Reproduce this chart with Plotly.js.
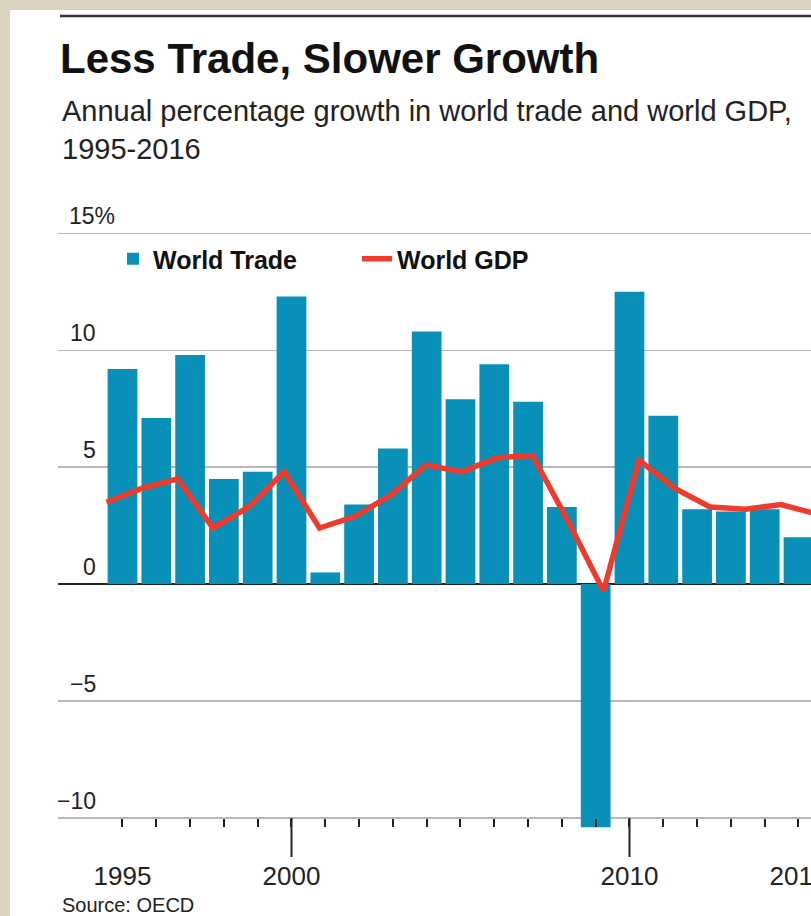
<!DOCTYPE html>
<html><head><meta charset="utf-8">
<script src="https://cdn.plot.ly/plotly-3.0.1.min.js"></script>
<style>
html,body{margin:0;padding:0;background:#dcd3c1;width:811px;height:916px;overflow:hidden}
#chart{position:absolute;left:10px;top:10px;width:801px;height:906px;background:#fff}
</style></head><body><div id="chart"></div>
<script>
const years = [1995,1996,1997,1998,1999,2000,2001,2002,2003,2004,2005,2006,2007,2008,2009,2010,2011,2012,2013,2014,2015];
const worldTrade = [9.2,7.1,9.8,4.5,4.8,12.3,0.5,3.4,5.8,10.8,7.9,9.4,7.8,3.3,-10.4,12.5,7.2,3.2,3.1,3.2,2.0];
const worldGDP = [3.5,4.1,4.5,2.4,3.3,4.8,2.4,2.9,3.8,5.1,4.8,5.4,5.5,2.7,-0.3,5.3,4.1,3.3,3.2,3.4,3.0];
const xLabelYears = [1995,2000,2010,2015];
const decadeTickYears = [2000,2010];
const yTickValues = [-10,-5,0,5,10,15];
const yTickText = ['\u221210','\u22125','0','5','10','15%'];

const FONT = 'Liberation Sans, Arial, sans-serif';
const W = 801, H = 906, ML = 48, MT = 221, PH = 601, PW = 753;
const px = d => (d - ML) / PW;          // div x -> paper x
const py = d => (MT + PH - d) / PH;     // div y -> paper y
const xAxisPos = 0.6 / 25.7;

const annotations = [];
yTickValues.forEach((v, i) => {
  const t = yTickText[i];
  const hang = t.indexOf('%') >= 0;
  annotations.push({
    text: t, xref: 'paper', yref: 'y', x: hang ? px(107) : px(88), y: v,
    xanchor: 'right', yanchor: 'bottom', yshift: 2, showarrow: false,
    font: {family: FONT, size: 23, color: '#222'}
  });
});
annotations.push({
  text: 'Annual percentage growth in world trade and world GDP,<br>1995-2016',
  xref: 'paper', yref: 'paper', x: px(50), y: py(83), xanchor: 'left', yanchor: 'top',
  align: 'left', showarrow: false, font: {family: FONT, size: 29, color: '#222'}
});
annotations.push({
  text: 'Source: OECD', xref: 'paper', yref: 'paper', x: px(50), y: py(882),
  xanchor: 'left', yanchor: 'top', align: 'left', showarrow: false,
  font: {family: FONT, size: 20, color: '#222'}
});

const shapes = [{
  type: 'line', xref: 'paper', yref: 'paper', x0: px(50), x1: 1, y0: py(6), y1: py(6),
  line: {color: '#333', width: 2.5}
}];
decadeTickYears.forEach(yr => shapes.push({
  type: 'line', xref: 'x', yref: 'paper', x0: yr, x1: yr, y0: xAxisPos, y1: py(847),
  line: {color: '#222', width: 2}
}));

const data = [
  {type: 'bar', name: 'World Trade', x: years, y: worldTrade, width: 0.88,
   marker: {color: '#0890b8', line: {width: 0}}, hoverinfo: 'skip'},
  {type: 'scatter', mode: 'lines', name: 'World GDP', x: years, y: worldGDP, xaxis: 'x2',
   line: {color: '#ef3b2c', width: 5.5}, hoverinfo: 'skip'}
];

const layout = {
  width: W, height: H,
  margin: {l: ML, r: 0, t: MT, b: H - MT - PH},
  paper_bgcolor: '#fff', plot_bgcolor: '#fff',
  title: {text: 'Less Trade, Slower Growth', xref: 'container', yref: 'container',
          x: 50 / W, xanchor: 'left', y: 1 - 63 / H, yanchor: 'bottom',
          font: {family: FONT, size: 42, weight: 700, color: '#111'}},
  showlegend: true,
  legend: {orientation: 'h', x: px(103), xanchor: 'left', y: py(226), yanchor: 'top',
           entrywidth: 199, bgcolor: 'rgba(0,0,0,0)', borderwidth: 0, traceorder: 'normal',
           font: {family: FONT, size: 25, weight: 700, color: '#111'}},
  xaxis: {range: [1993.092, 2015.37], tickmode: 'array', tickvals: years,
          ticktext: years.map(y => xLabelYears.includes(y) ? String(y) : ''),
          ticks: 'outside', ticklen: 8, tickwidth: 2, tickcolor: '#222',
          showgrid: false, zeroline: false, showline: false,
          anchor: 'free', position: xAxisPos, ticklabelstandoff: 27,
          ticklabeloverflow: 'allow',
          tickfont: {family: FONT, size: 26, color: '#222'}, fixedrange: true},
  xaxis2: {overlaying: 'x', range: [1993.634, 2014.845], visible: false, anchor: 'y', fixedrange: true},
  yaxis: {range: [-10.6, 15.1], tickmode: 'array', tickvals: yTickValues, showticklabels: false,
          ticks: '', showgrid: true, gridcolor: '#b8b8b8', gridwidth: 1.5,
          zeroline: true, zerolinecolor: '#222', zerolinewidth: 2.5, showline: false, fixedrange: true},
  annotations: annotations,
  shapes: shapes,
  hovermode: false
};

Plotly.newPlot('chart', data, layout, {staticPlot: true, displayModeBar: false});
</script></body></html>
